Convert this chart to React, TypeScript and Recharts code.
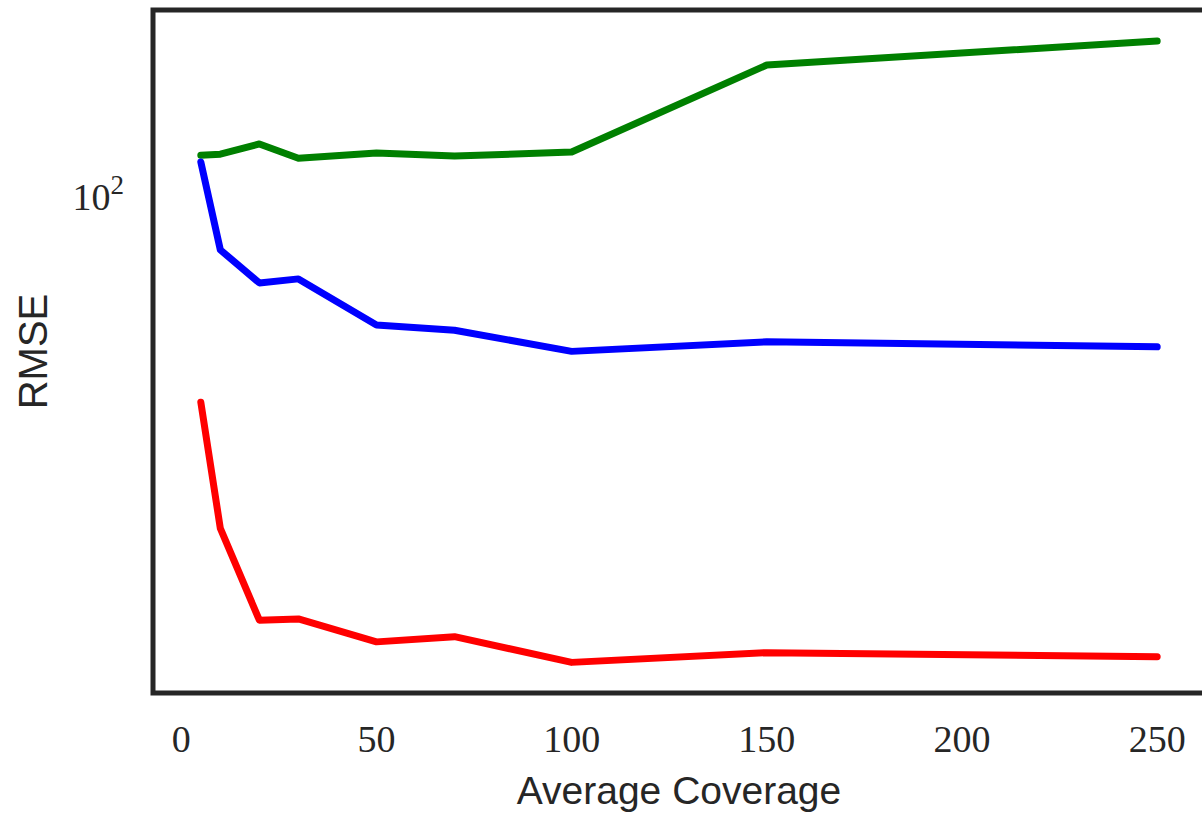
import React from 'react';
import { LineChart, Line, XAxis, YAxis, ReferenceArea } from 'recharts';

// RMSE vs average coverage, log y axis
const coverage = [5, 10, 20, 30, 50, 70, 100, 150, 250];
const greenRmse = [114.0, 114.4, 118.3, 112.9, 114.8, 113.7, 115.2, 153.4, 166.0];
const blueRmse = [111.5, 83.5, 74.9, 75.9, 65.2, 64.1, 59.8, 61.7, 60.7];
const redRmse = [50.6, 33.4, 24.7, 24.8, 23.0, 23.4, 21.5, 22.2, 21.9];

const xTicks = [0, 50, 100, 150, 200, 250];
const yTicks = [100];
const xDomain: [number, number] = [-7.25, 262.25];
const yDomain: [number, number] = [19.44, 183.8];

const data = coverage.map((c, i) => ({
  coverage: c,
  green: greenRmse[i],
  blue: blueRmse[i],
  red: redRmse[i],
}));

const serif = '"Liberation Serif", "DejaVu Serif", serif';
const sans = '"Liberation Sans", "DejaVu Sans", sans-serif';

const XTick = (props: any) => {
  const { x, y, payload } = props;
  return (
    <text x={x} y={y} dy="0.35em" textAnchor="middle" fontFamily={serif} fontSize={38} fill="#262626">
      {payload.value}
    </text>
  );
};

const YTick = (props: any) => {
  const { x, y, payload } = props;
  const exp = Math.round(Math.log10(payload.value));
  return (
    <text x={x} y={y} dy={15} textAnchor="end" fontFamily={serif} fontSize={38} fill="#262626">
      <tspan>10</tspan>
      <tspan dy={-16} fontSize={27}>{exp}</tspan>
    </text>
  );
};

const YLabel = (props: any) => {
  const { viewBox } = props;
  const cy = viewBox.y + viewBox.height / 2;
  return (
    <text
      x={33}
      y={cy}
      transform={`rotate(-90, 33, ${cy})`}
      textAnchor="middle"
      dominantBaseline="central"
      fontFamily={sans}
      fontSize={40}
      fill="#262626"
    >
      RMSE
    </text>
  );
};

const XLabel = (props: any) => {
  const { viewBox } = props;
  const cx = viewBox.x + viewBox.width / 2;
  return (
    <text x={cx} y={viewBox.y + 111} textAnchor="middle" fontFamily={sans} fontSize={39} fill="#262626">
      Average Coverage
    </text>
  );
};

export default function App() {
  return (
    <div style={{ position: 'absolute', left: 0, top: 0, width: 1202, height: 813, overflow: 'hidden', background: '#fff' }}>
      <LineChart width={1212} height={813} data={data} margin={{ top: 10, right: 7, bottom: 0, left: 0 }}>
        <XAxis
          dataKey="coverage"
          type="number"
          domain={xDomain}
          ticks={xTicks}
          allowDataOverflow
          axisLine={false}
          tickLine={false}
          tickSize={0}
          tickMargin={46}
          height={120}
          tick={<XTick />}
          label={<XLabel />}
        />
        <YAxis
          type="number"
          scale="log"
          domain={yDomain}
          ticks={yTicks}
          allowDataOverflow
          axisLine={false}
          tickLine={false}
          tickSize={0}
          tickMargin={29}
          width={153}
          tick={<YTick />}
          label={<YLabel />}
        />
        <ReferenceArea
          x1={xDomain[0]}
          x2={xDomain[1]}
          y1={yDomain[0]}
          y2={yDomain[1]}
          fill="none"
          fillOpacity={0}
          stroke="#262626"
          strokeWidth={5}
          ifOverflow="visible"
        />
        <Line dataKey="green" stroke="#008000" strokeWidth={7} strokeLinecap="round" strokeLinejoin="round" dot={false} activeDot={false} isAnimationActive={false} />
        <Line dataKey="blue" stroke="#0000ff" strokeWidth={7} strokeLinecap="round" strokeLinejoin="round" dot={false} activeDot={false} isAnimationActive={false} />
        <Line dataKey="red" stroke="#ff0000" strokeWidth={7} strokeLinecap="round" strokeLinejoin="round" dot={false} activeDot={false} isAnimationActive={false} />
      </LineChart>
    </div>
  );
}
